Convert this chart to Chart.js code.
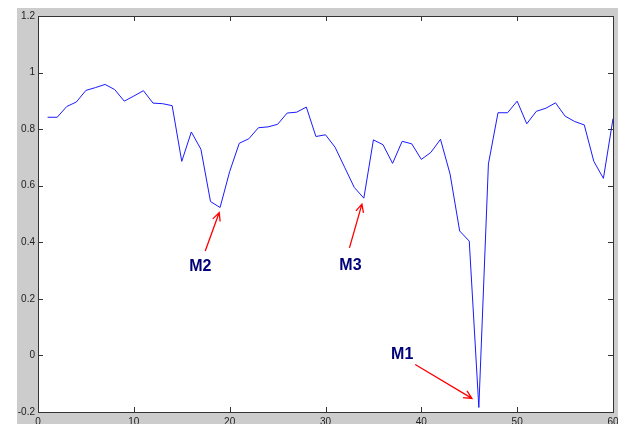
<!DOCTYPE html>
<html>
<head>
<meta charset="utf-8">
<script src="https://cdn.jsdelivr.net/npm/chart.js@4/dist/chart.umd.min.js"></script>
<style>
  html, body { margin: 0; padding: 0; background: #fff; }
  #wrap { width: 618px; height: 424px; position: relative; }
</style>
</head>
<body>
<div id="wrap"><canvas id="chart"></canvas></div>
<script>
// sample index 1..60
const xValues = [];
for (let i = 1; i <= 60; i++) xValues.push(i);

const yValues = [
  0.842, 0.842, 0.880, 0.896, 0.937, 0.947, 0.958, 0.940, 0.899, 0.917,
  0.936, 0.892, 0.890, 0.883, 0.686, 0.790, 0.729, 0.544, 0.523, 0.650,
  0.750, 0.766, 0.805, 0.808, 0.817, 0.857, 0.860, 0.878, 0.774, 0.780,
  0.736, 0.665, 0.594, 0.556, 0.762, 0.745, 0.679, 0.757, 0.748, 0.693,
  0.718, 0.764, 0.641, 0.440, 0.404, -0.184, 0.677, 0.858, 0.858, 0.899,
  0.819, 0.863, 0.874, 0.893, 0.846, 0.827, 0.815, 0.686, 0.626, 0.837
];

const xTicks = [0, 10, 20, 30, 40, 50, 60];
const yTicks = [-0.2, 0, 0.2, 0.4, 0.6, 0.8, 1, 1.2];

// markers: label, label position, arrow start, arrow tip (data coords)
const markLabels = ['M2', 'M3', 'M1'];
const markText = [[16.93, 0.315], [32.6, 0.319], [38.0, 0.003]];
const markFrom = [[17.45, 0.369], [32.5, 0.380], [39.36, -0.032]];
const markTo = [[18.91, 0.505], [33.8, 0.535], [45.28, -0.152]];

const points = xValues.map((x, i) => ({ x: x, y: yValues[i] }));

const frame = {
  id: 'frame',
  beforeDraw(chart) {
    const { ctx, chartArea: a } = chart;
    ctx.save();
    ctx.fillStyle = '#cccccc';
    ctx.fillRect(17, 8, chart.width - 17, chart.height - 8);
    ctx.fillStyle = '#ffffff';
    ctx.fillRect(a.left, a.top, a.right - a.left, a.bottom - a.top);
    ctx.restore();
  },
  afterDatasetsDraw(chart) {
    const { ctx, chartArea: a, scales } = chart;
    ctx.save();
    ctx.strokeStyle = '#333333';
    ctx.lineWidth = 1;
    ctx.beginPath();
    // inside ticks on all four sides
    xTicks.forEach(v => {
      const px = Math.round(scales.x.getPixelForValue(v)) + 0.5;
      ctx.moveTo(px, a.bottom); ctx.lineTo(px, a.bottom - 5);
      ctx.moveTo(px, a.top); ctx.lineTo(px, a.top + 5);
    });
    yTicks.forEach(v => {
      const py = Math.round(scales.y.getPixelForValue(v)) + 0.5;
      ctx.moveTo(a.left, py); ctx.lineTo(a.left + 5, py);
      ctx.moveTo(a.right, py); ctx.lineTo(a.right - 5, py);
    });
    ctx.stroke();
    ctx.strokeRect(Math.round(a.left) + 0.5, Math.round(a.top) + 0.5,
      Math.round(a.right - a.left), Math.round(a.bottom - a.top));

    // annotations
    markLabels.forEach((lab, i) => {
      const tx = scales.x.getPixelForValue(markText[i][0]);
      const ty = scales.y.getPixelForValue(markText[i][1]);
      ctx.fillStyle = '#00007a';
      ctx.font = 'bold 16px "Liberation Sans", Arial, sans-serif';
      ctx.textAlign = 'center';
      ctx.textBaseline = 'middle';
      ctx.fillText(lab, tx, ty);

      const x1 = scales.x.getPixelForValue(markFrom[i][0]);
      const y1 = scales.y.getPixelForValue(markFrom[i][1]);
      const x2 = scales.x.getPixelForValue(markTo[i][0]);
      const y2 = scales.y.getPixelForValue(markTo[i][1]);
      const ang = Math.atan2(y2 - y1, x2 - x1);
      const h = 9;
      ctx.strokeStyle = '#ff0000';
      ctx.lineWidth = 1.3;
      ctx.beginPath();
      ctx.moveTo(x1, y1); ctx.lineTo(x2, y2);
      ctx.moveTo(x2 - h * Math.cos(ang - 0.45), y2 - h * Math.sin(ang - 0.45));
      ctx.lineTo(x2, y2);
      ctx.lineTo(x2 - h * Math.cos(ang + 0.45), y2 - h * Math.sin(ang + 0.45));
      ctx.stroke();
    });
    ctx.restore();
  }
};

new Chart(document.getElementById('chart'), {
  type: 'line',
  data: {
    datasets: [{
      data: points,
      borderColor: '#1a1aff',
      borderWidth: 1,
      pointRadius: 0,
      tension: 0,
      fill: false
    }]
  },
  options: {
    responsive: true,
    maintainAspectRatio: false,
    animation: false,
    layout: { padding: { left: 0, top: 16, right: 5, bottom: 0 } },
    plugins: { legend: { display: false }, tooltip: { enabled: false } },
    scales: {
      x: {
        type: 'linear',
        min: 0, max: 60,
        afterBuildTicks: s => { s.ticks = xTicks.map(v => ({ value: v })); },
        afterFit: s => { s.height = 12; s.paddingLeft = 0; s.paddingRight = 0; },
        grid: { display: false, drawTicks: false },
        border: { display: false },
        ticks: {
          padding: 4,
          maxRotation: 0,
          autoSkip: false,
          color: '#222222',
          font: { family: '"Liberation Sans", Arial, sans-serif', size: 10 }
        }
      },
      y: {
        min: -0.2, max: 1.2,
        afterBuildTicks: s => { s.ticks = yTicks.map(v => ({ value: v })); },
        afterFit: s => { s.width = 38; s.paddingTop = 0; s.paddingBottom = 0; },
        grid: { display: false, drawTicks: false },
        border: { display: false },
        ticks: {
          padding: 3,
          autoSkip: false,
          color: '#222222',
          font: { family: '"Liberation Sans", Arial, sans-serif', size: 10 },
          callback: v => String(Math.round(v * 10) / 10)
        }
      }
    }
  },
  plugins: [frame]
});
</script>
</body>
</html>
